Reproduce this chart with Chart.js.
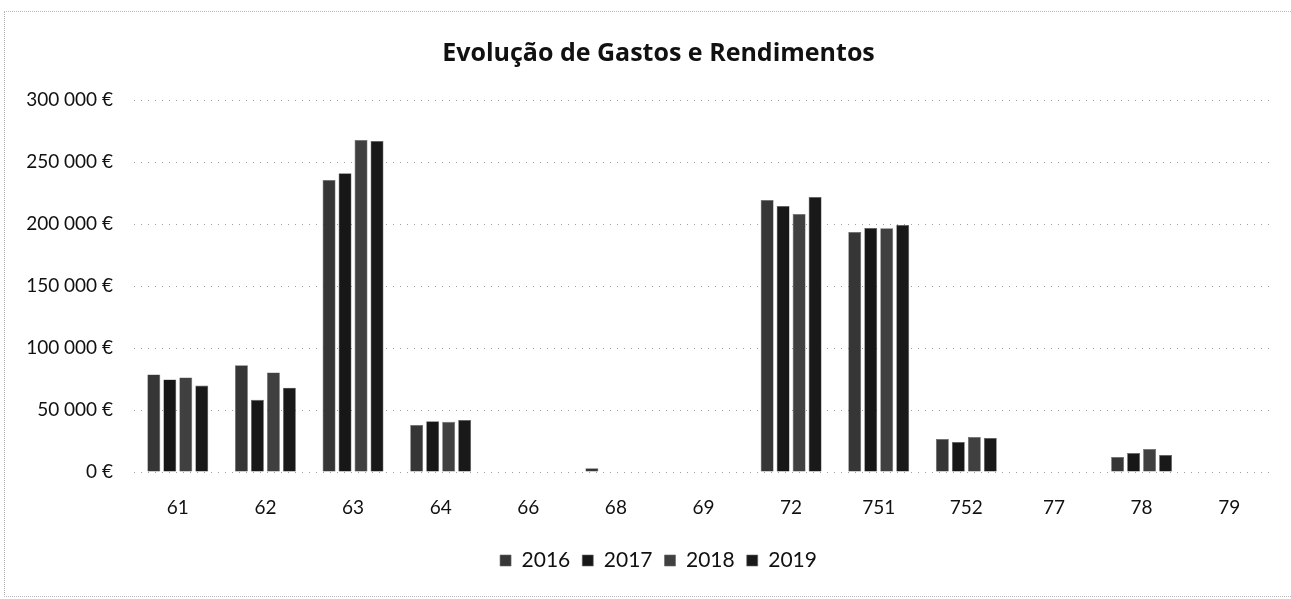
<!DOCTYPE html>
<html>
<head>
<meta charset="utf-8">
<script src="https://cdn.jsdelivr.net/npm/chart.js@4/dist/chart.umd.min.js"></script>
<style>
  html, body { margin: 0; padding: 0; background: #fff; }
  #wrap { position: relative; width: 1291px; height: 599px; }
  #frame { position: absolute; left: 4px; top: 11px; width: 1300px; height: 584px;
           border-left: 1px dotted #aaa; border-top: 1px dotted #bbb; border-bottom: 1px dotted #bbb; pointer-events: none; }
</style>
</head>
<body>
<div id="wrap">
  <canvas id="c" width="1291" height="599"></canvas>
  <div id="frame"></div>
</div>
<script>
const categories = ['61', '62', '63', '64', '66', '68', '69', '72', '751', '752', '77', '78', '79'];
const years = ['2016', '2017', '2018', '2019'];
const v2016 = [78700, 86000, 235500, 38000, 0, 3000, 0, 219400, 193500, 26600, 0, 12100, 0];
const v2017 = [74600, 58200, 241000, 41000, 0, 0, 0, 214500, 196800, 24200, 0, 15300, 0];
const v2018 = [76200, 80300, 267700, 40500, 0, 0, 0, 208000, 196500, 28200, 0, 18500, 0];
const v2019 = [69700, 68000, 267000, 42000, 0, 0, 0, 221800, 199200, 27400, 0, 13700, 0];
const yTicks = [0, 50000, 100000, 150000, 200000, 250000, 300000];

const seriesValues = [v2016, v2017, v2018, v2019];
const colors = ['#363636', '#171717', '#404040', '#191919'];
const fontFam = 'Lato, "Open Sans", sans-serif';

function fmtEuro(v) {
  const s = Math.round(v).toString().replace(/\B(?=(\d{3})+(?!\d))/g, ' ');
  return s + ' €';
}

// shift title and legend centring to the right (as in the original layout)
const shiftBlocks = {
  id: 'shiftBlocks',
  afterLayout(chart) {
    if (chart.legend) chart.legend.left += 44;
    if (chart.titleBlock) chart.titleBlock.left += 44;
  }
};

new Chart(document.getElementById('c'), {
  type: 'bar',
  data: {
    labels: categories,
    datasets: years.map((y, i) => ({
      label: y,
      data: seriesValues[i],
      backgroundColor: colors[i],
      borderColor: '#666',
      borderWidth: 0.6,
      barPercentage: 0.81,
      categoryPercentage: 0.73
    }))
  },
  plugins: [shiftBlocks],
  options: {
    responsive: false,
    animation: false,
    layout: { padding: { left: 0, right: 18, top: 0, bottom: 18 } },
    plugins: {
      title: {
        display: true,
        text: 'Evolução de Gastos e Rendimentos',
        color: '#111',
        font: { family: '"Open Sans", Lato, sans-serif', size: 25, weight: 'bold' },
        padding: { top: 39, bottom: 31 }
      },
      legend: {
        position: 'bottom',
        labels: {
          color: '#111',
          font: { family: fontFam, size: 21 },
          boxWidth: 11,
          boxHeight: 11,
          padding: 12
        }
      },
      tooltip: { enabled: false }
    },
    scales: {
      x: {
        grid: { display: false, drawTicks: false },
        border: { display: false },
        ticks: { color: '#111', font: { family: fontFam, size: 19 }, padding: 24, maxRotation: 0 },
        afterFit: (s) => { s.height = 66; }
      },
      y: {
        min: 0,
        max: 300000,
        afterBuildTicks: (s) => { s.ticks = yTicks.map(v => ({ value: v })); },
        grid: { color: 'rgba(0,0,0,0.38)', borderDash: [1, 6], drawTicks: false, lineWidth: 1 },
        border: { display: false, dash: [1, 6] },
        ticks: { color: '#111', font: { family: fontFam, size: 19 }, padding: 21, callback: (v) => fmtEuro(v) },
        afterFit: (s) => { s.width = 134; }
      }
    }
  }
});
</script>
</body>
</html>
